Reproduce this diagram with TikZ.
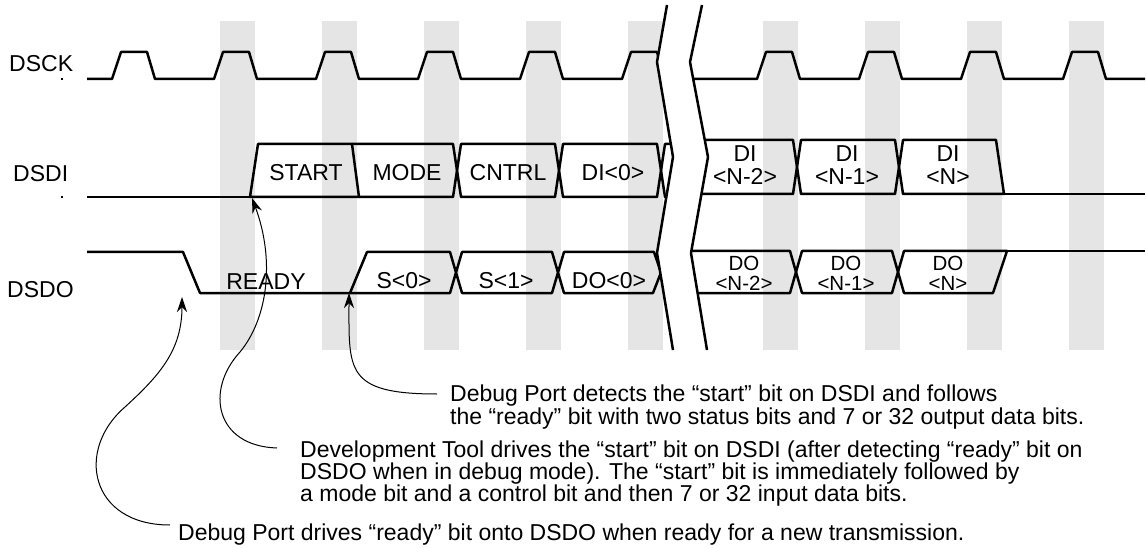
\documentclass[tikz,border=0pt]{standalone}
\usepackage{fontspec}
\setmainfont{Liberation Sans}
\usepackage{xcolor}
\usetikzlibrary{arrows.meta}
\usetikzlibrary{calc, math}
\definecolor{bandgray}{RGB}{229,229,229}

\tikzset{
sig/.style={line width=2.5pt, line join=round},
brk/.style={line width=2.5pt, line join=round},
lbl/.style={font=\fontsize{23}{23}\selectfont, inner sep=0pt, anchor=base},
lblsm/.style={font=\fontsize{20.5}{20.5}\selectfont, inner sep=0pt, anchor=base},
txt/.style={font=\fontsize{23}{23}\selectfont, inner sep=0pt, anchor=base west},
note/.style={line width=1pt, -{Stealth[length=15pt,width=10pt]}},
}

\begin{document}
\begin{tikzpicture}[x=1pt,y=-1pt]
\tikzmath{
\yck=79; \yckh=52;%clock levels
\yit=144; \yib=197; \yim=170.5;
\yrit=140; \yrib=194; \yrim=167;
\yot=252; \yob=293; \yom=272.5;
\yrot=251; \yrob=293; \yrom=272;
}
\useasboundingbox (0,0) rectangle (1146,548);

%bands
\foreach \r in {214,316,418,520,622,757,859,961,1063}
  \fill[bandgray] (\r+6,21) rectangle (\r+41,350);

%clock
\draw[sig] (87,\yck) \foreach \r in {112,214,316,418,520,622}{ -- (\r,\yck) -- (\r+9,\yckh) -- (\r+35,\yckh) -- (\r+43,\yck)} -- (672,\yck);
\draw[sig] (680,\yck) \foreach \r in {757,859,961,1063}{ -- (\r,\yck) -- (\r+9,\yckh) -- (\r+35,\yckh) -- (\r+43,\yck)} -- (1145,\yck);

%data in, left of the break
\draw[sig] (87,\yib) -- (250,\yib);
\draw[sig] (250,\yib) -- (258,\yit) -- (352,\yit) -- (359,\yib) -- cycle;
\draw[sig] (352,\yit) -- (453,\yit) -- (457,\yim) -- (453,\yib) -- (359,\yib);
\draw[sig] (457,\yim) -- (461,\yit) -- (555,\yit) -- (559,\yim) -- (555,\yib) -- (461,\yib) -- cycle;
\draw[sig] (559,\yim) -- (563,\yit) -- (657,\yit) -- (661,\yim) -- (657,\yib) -- (563,\yib) -- cycle;
\draw[sig] (690,\yit) -- (665,\yit) -- (661,\yim) -- (665,\yib) -- (690,\yib);

%data in, right of the break
\draw[sig] (690,\yrit) -- (793,\yrit) -- (797,\yrim) -- (793,\yrib) -- (690,\yrib);
\draw[sig] (797,\yrim) -- (801,\yrit) -- (895,\yrit) -- (899,\yrim) -- (895,\yrib) -- (801,\yrib) -- cycle;
\draw[sig] (899,\yrim) -- (903,\yrit) -- (996,\yrit) -- (1004,\yrib) -- (903,\yrib) -- cycle;
\draw[sig] (1004,\yrib) -- (1145,\yrib);

%data out, left of the break
\draw[sig] (87,\yot) -- (183,\yot) -- (200,\yob) -- (350,\yob);
\draw[sig] (350,\yob) -- (367,\yot) -- (450,\yot) -- (456,\yom) -- (450,\yob) -- cycle;
\draw[sig] (456,\yom) -- (462,\yot) -- (552,\yot) -- (558,\yom) -- (552,\yob) -- (462,\yob) -- cycle;
\draw[sig] (558,\yom) -- (564,\yot) -- (654,\yot) -- (661,\yom) -- (653,\yob) -- (564,\yob) -- cycle;

%data out, right of the break
\draw[sig] (680,\yrot) -- (790,\yrot) -- (796,\yrom) -- (790,\yrob) -- (680,\yrob);
\draw[sig] (796,\yrom) -- (802,\yrot) -- (892,\yrot) -- (898,\yrom) -- (892,\yrob) -- (802,\yrob) -- cycle;
\draw[sig] (898,\yrom) -- (904,\yrot) -- (1007,\yrot) -- (993,\yrob) -- (904,\yrob) -- cycle;
\draw[sig] (1007,\yrot) -- (1145,\yrot);

%break
\fill[white] (667,5) -- (657,62) -- (673,157) -- (657,253) -- (673,350) -- (707,350) -- (691,253) -- (708,157) -- (690,62) -- (702,5) -- cycle;
\draw[brk] (667,5) -- (657,62) -- (673,157) -- (657,253) -- (673,350);
\draw[brk] (702,5) -- (690,62) -- (708,157) -- (691,253) -- (707,350);

%signal names
\node[txt] (lbCK) at (9,72) {DSCK};
\node[txt] (lbDI) at (13,182) {DSDI};
\node[txt] (lbDO) at (7,297) {DSDO};
\fill (61,78) rectangle (63,80);
\fill (61,196) rectangle (63,198);

%bit names
\node[lbl] (bStart) at (306,181) {START};
\node[lbl] (bMode) at (407,181) {MODE};
\node[lbl] (bCntrl) at (508,181) {CNTRL};
\node[lbl] (bDi0) at (613,181) {DI<0>};
\node[lbl] (bDiN2) at (745,162) {DI};
\node[lbl] (bDiN2n) at (745,185) {<N-2>};
\node[lbl] (bDiN1) at (847,162) {DI};
\node[lbl] (bDiN1n) at (847,185) {<N-1>};
\node[lbl] (bDiN) at (948,162) {DI};
\node[lbl] (bDiNn) at (948,185) {<N>};

\node[lbl] (bReady) at (266,289) {READY};
\node[lbl] (bS0) at (404,288) {S<0>};
\node[lbl] (bS1) at (506,288) {S<1>};
\node[lbl] (bDo0) at (609,288) {DO<0>};
\node[lblsm] (bDoN2) at (744,270) {DO};
\node[lblsm] (bDoN2n) at (744,290.5) {<N-2>};
\node[lblsm] (bDoN1) at (846,270) {DO};
\node[lblsm] (bDoN1n) at (846,290.5) {<N-1>};
\node[lblsm] (bDoN) at (948,270) {DO};
\node[lblsm] (bDoNn) at (948,290.5) {<N>};

%notes
\coordinate (rdyfall) at (182,297);
\coordinate (startrise) at (252,198);
\coordinate (s0rise) at (349,293);

\node[txt] (dpdet1) at (450,401.5) {Debug Port detects the “start” bit on DSDI and follows};
\node[txt] (dpdet2) at (450,424) {the “ready” bit with two status bits and 7 or 32 output data bits.};
\node[txt] (devt1) at (300,457) {Development Tool drives the “start” bit on DSDI (after detecting “ready” bit on};
\node[txt] (devt2) at (300,479.5) {DSDO when in debug mode). The “start” bit is immediately followed by};
\node[txt] (devt3) at (300,501.5) {a mode bit and a control bit and then 7 or 32 input data bits.};
\node[txt] (dpdrv) at (178,540.5) {Debug Port drives “ready” bit onto DSDO when ready for a new transmission.};

\draw[note] ($(dpdet1.base west)+(-13,-7.5)$) .. controls (345,394) and (349,370) .. (s0rise);
\draw[note] ($(devt1.base west)+(-23,-9)$) .. controls (215,446) and (205,390) .. (240,352) .. controls (268,318) and (275,260) .. (startrise);
\draw[note] ($(dpdrv.base west)+(-8,-15.5)$) .. controls (90,525) and (75,450) .. (125,407) .. controls (160,375) and (182,350) .. (rdyfall);
\end{tikzpicture}
\end{document}
